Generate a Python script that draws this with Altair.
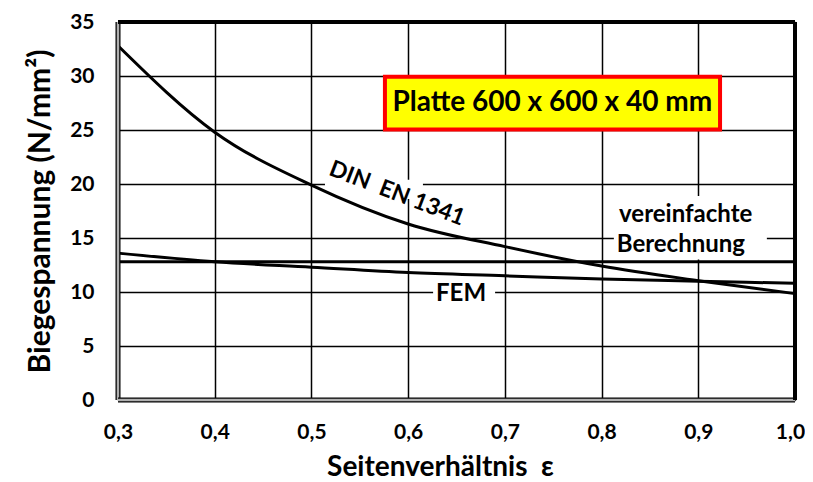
import altair as alt
import pandas as pd

eps = [0.3, 0.4, 0.5, 0.6, 0.7, 0.8, 0.9, 1.0]
din = [32.8, 24.8, 19.9, 16.3, 14.2, 12.4, 11.05, 9.85]
fem = [13.6, 12.8, 12.3, 11.8, 11.5, 11.2, 11.0, 10.8]
simple = [12.8, 12.8, 12.8, 12.8, 12.8, 12.8, 12.8, 12.8]

FONT = "Lato"

rows = []
for name, vals in [("DIN", din), ("FEM", fem), ("simple", simple)]:
    for e, v in zip(eps, vals):
        rows.append({"eps": e, "val": v, "series": name})
df = pd.DataFrame(rows)

xs = alt.Scale(domain=[0.3, 1.0], nice=False)
ys = alt.Scale(domain=[0, 35], nice=False)

x_axis = alt.Axis(values=eps, grid=True, gridColor="black", gridWidth=1.5, gridOpacity=1,
                  ticks=False, domain=False, labelFont=FONT, labelFontSize=21, labelFontWeight="bold",
                  labelColor="black", labelPadding=21, labelFlush=False,
                  labelOffset={"condition": {"test": "datum.value >= 0.99", "value": -5}, "value": 0},
                  labelExpr="replace(format(datum.value, '.1f'), '.', ',')",
                  title="Seitenverhältnis\u00a0\u00a0ε", titleFont=FONT, titleFontSize=28, titleFontWeight="bold",
                  titleColor="black", titlePadding=11, titleX=322, titleAnchor="middle")
y_axis = alt.Axis(values=[0, 5, 10, 15, 20, 25, 30, 35], grid=True, gridColor="black", gridWidth=1.5,
                  gridOpacity=1, ticks=False, domain=False, labelFont=FONT, labelFontSize=21,
                  labelFontWeight="bold", labelColor="black", labelPadding=24, labelFlush=False,
                  title="Biegespannung (N/mm²)", titleFont=FONT, titleFontSize=30, titleFontWeight="bold",
                  titleColor="black", titlePadding=14)

base = alt.Chart(df)

grid = alt.Chart(pd.DataFrame({"eps": [0.3], "val": [0]})).mark_point(opacity=0).encode(
    x=alt.X("eps:Q", scale=xs, axis=x_axis),
    y=alt.Y("val:Q", scale=ys, axis=y_axis),
)

# white boxes behind labels (break gridlines)
wb = pd.DataFrame({
    "x0": [0.8127, 0.6258, 0.5140],
    "x1": [0.9709, 0.6899, 0.6153],
    "y0": [13.0, 9.1, 18.6],
    "y1": [18.9, 10.9, 20.4],
})
white = alt.Chart(wb).mark_rect(fill="white").encode(
    x=alt.X("x0:Q", scale=xs), x2="x1:Q", y=alt.Y("y0:Q", scale=ys), y2="y1:Q")

lines = base.mark_line(color="black", strokeWidth=3, interpolate="monotone").encode(
    x=alt.X("eps:Q", scale=xs), y=alt.Y("val:Q", scale=ys), detail="series:N")

# frame
fr_top = alt.Chart(pd.DataFrame({"v": [35]})).mark_rule(color="black", strokeWidth=4).encode(
    y=alt.Y("v:Q", scale=ys))
fr_right = alt.Chart(pd.DataFrame({"v": [1.0]})).mark_rule(color="black", strokeWidth=4).encode(
    x=alt.X("v:Q", scale=xs))
fr_left_o = alt.Chart(pd.DataFrame({"v": [0.3]})).mark_rule(color="black", strokeWidth=5).encode(
    x=alt.X("v:Q", scale=xs))
fr_left_i = alt.Chart(pd.DataFrame({"v": [0.3]})).mark_rule(color="#b0b0b0", strokeWidth=2.5).encode(
    x=alt.X("v:Q", scale=xs))
fr_bot_o = alt.Chart(pd.DataFrame({"v": [0]})).mark_rule(color="black", strokeWidth=5).encode(
    y=alt.Y("v:Q", scale=ys))
fr_bot_i = alt.Chart(pd.DataFrame({"v": [0]})).mark_rule(color="#b0b0b0", strokeWidth=2.5).encode(
    y=alt.Y("v:Q", scale=ys))

# title box
tb = pd.DataFrame({"x0": [0.576], "x1": [0.9225], "y0": [25.05], "y1": [29.93]})
tbox = alt.Chart(tb).mark_rect(fill="#ffff00", stroke="#ff0000", strokeWidth=4).encode(
    x=alt.X("x0:Q", scale=xs), x2="x1:Q", y=alt.Y("y0:Q", scale=ys), y2="y1:Q")
ttext = alt.Chart(pd.DataFrame({"x": [0.749], "y": [27.5], "t": ["Platte 600 x 600 x 40 mm"]})).mark_text(
    font=FONT, fontSize=28, fontWeight="bold", color="black").encode(
    x=alt.X("x:Q", scale=xs), y=alt.Y("y:Q", scale=ys), text="t:N")

labels = pd.DataFrame({
    "x": [0.887, 0.882, 0.6547],
    "y": [17.13, 14.37, 9.86],
    "t": ["vereinfachte", "Berechnung", "FEM"],
})
ltext = alt.Chart(labels).mark_text(font=FONT, fontSize=24, fontWeight="bold", color="black").encode(
    x=alt.X("x:Q", scale=xs), y=alt.Y("y:Q", scale=ys), text="t:N")

dtext = alt.Chart(pd.DataFrame({"x": [0.5885], "y": [19.1], "t": ["DIN\u00a0\u00a0EN 1341"]})).mark_text(
    font=FONT, fontSize=23, fontWeight="bold", color="black", angle=21).encode(
    x=alt.X("x:Q", scale=xs), y=alt.Y("y:Q", scale=ys), text="t:N")

chart = alt.layer(grid, white, lines, fr_left_o, fr_left_i, fr_bot_o, fr_bot_i, fr_top, fr_right,
                  tbox, ttext, ltext, dtext).properties(
    width=677, height=378,
    autosize=alt.AutoSizeParams(type="none"),
    padding={"left": 110, "top": 14, "right": 10, "bottom": 80},
).configure_view(stroke=None).configure(background="white")

chart.save("out.html", embed_options={"renderer": "svg", "actions": False})
